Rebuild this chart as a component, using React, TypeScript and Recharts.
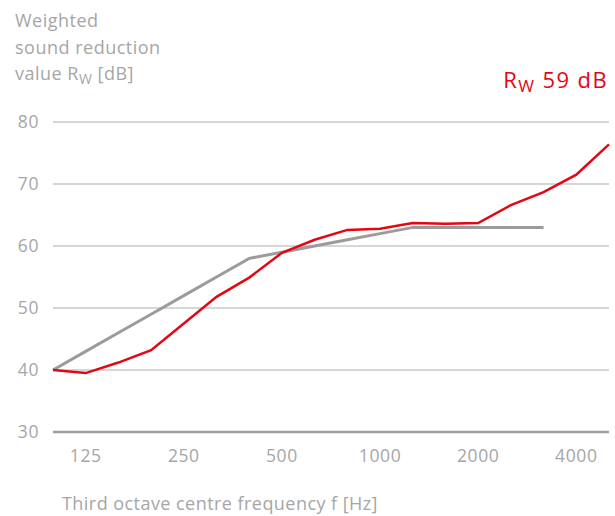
import React from 'react';
import { LineChart, Line, XAxis, YAxis, CartesianGrid } from 'recharts';

const frequencies = [100, 125, 160, 200, 250, 315, 400, 500, 630, 800, 1000, 1250, 1600, 2000, 2500, 3150, 4000, 5000];
const measured = [40.0, 39.5, 41.2, 43.2, 47.5, 51.8, 54.9, 58.9, 61.0, 62.6, 62.8, 63.7, 63.6, 63.7, 66.6, 68.7, 71.5, 76.4];
const reference: (number | null)[] = [40, 43, 46, 49, 52, 55, 58, 59, 60, 61, 62, 63, 63, 63, 63, 63, null, null];
const xTicks = [125, 250, 500, 1000, 2000, 4000];
const yTicks = [30, 40, 50, 60, 70, 80];

const titleLines = ['Weighted', 'sound reduction', 'value R'];
const rwLabel = '59 dB';
const xTitle = 'Third octave centre frequency f [Hz]';

const FONT = "'Open Sans', 'DejaVu Sans', sans-serif";
const GREY_TEXT = '#a6a6a6';
const RED = '#e30613';

const data = frequencies.map((f, i) => ({ f, measured: measured[i], reference: reference[i] }));

const tickStyle = { fill: GREY_TEXT, fontSize: 17.5, fontFamily: FONT, letterSpacing: 0.6 };

export default function App() {
  return (
    <div style={{ position: 'absolute', left: 0, top: 0, width: 615, height: 516, background: '#fff' }}>
      <LineChart width={615} height={516} data={data} margin={{ top: 122, right: 6, bottom: 0, left: 0 }}>
        <CartesianGrid vertical={false} stroke="#c9c9c9" strokeWidth={1.5} />
        <XAxis
          dataKey="f"
          type="category"
          ticks={xTicks}
          interval={0}
          height={84}
          tickLine={false}
          tickSize={0}
          tickMargin={18}
          axisLine={{ stroke: '#9e9e9e', strokeWidth: 2.5 }}
          tick={tickStyle}
        />
        <YAxis
          type="number"
          domain={[30, 80]}
          ticks={yTicks}
          width={53}
          axisLine={false}
          tickLine={false}
          tickSize={0}
          tickMargin={14}
          tick={tickStyle}
        />
        <Line dataKey="reference" stroke="#9b9b9b" strokeWidth={3} dot={false} isAnimationActive={false} />
        <Line dataKey="measured" stroke={RED} strokeWidth={2.5} dot={false} isAnimationActive={false} />
      </LineChart>
      <svg
        width={615}
        height={516}
        style={{ position: 'absolute', left: 0, top: 0, pointerEvents: 'none' }}
        fontFamily={FONT}
      >
        <text x={15} y={27} fontSize={18} letterSpacing={0.5} fill={GREY_TEXT}>{titleLines[0]}</text>
        <text x={15} y={53.5} fontSize={18} letterSpacing={0.5} fill={GREY_TEXT}>{titleLines[1]}</text>
        <text x={15} y={80} fontSize={18} letterSpacing={0.5} fill={GREY_TEXT}>
          {titleLines[2]}
          <tspan fontSize={14} dy={4}>W</tspan>
          <tspan dy={-4}> [dB]</tspan>
        </text>
        <text x={608} y={87.5} fontSize={22} letterSpacing={1.4} fill={RED} textAnchor="end">
          R
          <tspan fontSize={17} dy={4}>W</tspan>
          <tspan dy={-4}> {rwLabel}</tspan>
        </text>
        <text x={62} y={510} fontSize={18} letterSpacing={0.45} fill={GREY_TEXT}>{xTitle}</text>
      </svg>
    </div>
  );
}
